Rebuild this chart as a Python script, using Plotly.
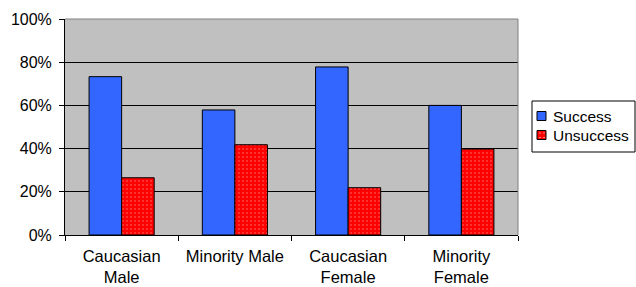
import plotly.graph_objects as go

categories = ["Caucasian<br>Male", "Minority Male", "Caucasian<br>Female", "Minority<br>Female"]
series_names = ["Success", "Unsuccess"]
success = [0.733, 0.579, 0.778, 0.600]
unsuccess = [0.265, 0.418, 0.219, 0.398]
y_ticks = [0, 0.2, 0.4, 0.6, 0.8, 1.0]

FONT = "Liberation Sans, Arial, sans-serif"
BLUE = "#3366FF"
RED = "#FF0000"

fig = go.Figure()
fig.add_trace(go.Bar(
    x=categories, y=success, name=series_names[0],
    marker=dict(color=BLUE, line=dict(color="black", width=1)),
    showlegend=False,
))
fig.add_trace(go.Bar(
    x=categories, y=unsuccess, name=series_names[1],
    marker=dict(color=RED, line=dict(color="black", width=1),
                pattern=dict(shape=".", fgcolor="white", bgcolor=RED, size=4, solidity=0.1)),
    showlegend=False,
))

W, H = 636, 287
L, R, T, B = 65, 118, 19, 52
fig.update_layout(
    width=W, height=H,
    margin=dict(l=L, r=R, t=T, b=B, pad=0, autoexpand=False),
    paper_bgcolor="white",
    plot_bgcolor="#C0C0C0",
    barmode="group",
    bargap=0.425,
    bargroupgap=0,
    font=dict(family=FONT, size=16, color="black"),
)
fig.update_yaxes(
    range=[0, 1], tickvals=y_ticks, tickformat=".0%",
    showgrid=True, gridcolor="black", gridwidth=1,
    showline=True, linecolor="black", linewidth=1,
    ticks="outside", ticklen=5, tickcolor="black",
    zeroline=False, fixedrange=True, automargin=False,
    tickfont=dict(size=16), ticklabelstandoff=4,
)
fig.update_xaxes(
    showline=True, linecolor="black", linewidth=1,
    ticks="outside", ticklen=5, tickcolor="black",
    tickson="boundaries", showgrid=False, automargin=False,
    tickfont=dict(size=16.5), fixedrange=True, ticklabelstandoff=6,
)

# plot area top/right border
fig.add_shape(type="line", xref="paper", yref="paper", x0=0, x1=1, y0=1, y1=1,
              line=dict(color="#808080", width=1))
fig.add_shape(type="line", xref="paper", yref="paper", x0=1, x1=1, y0=0, y1=1,
              line=dict(color="#808080", width=1))

# manual legend (pixel -> paper conversion)
pw = W - L - R
ph = H - T - B
def px(x):
    return (x - L) / pw
def py(y):
    return 1 - (y - T) / ph

fig.add_shape(type="rect", xref="paper", yref="paper",
              x0=px(532), x1=px(635), y0=py(152), y1=py(101),
              line=dict(color="black", width=1), fillcolor="white")
colors = [BLUE, RED]
ys = [116, 135]
for name, col, yc in zip(series_names, colors, ys):
    fig.add_shape(type="rect", xref="paper", yref="paper",
                  x0=px(537), x1=px(546), y0=py(yc + 4.5), y1=py(yc - 4.5),
                  line=dict(color="black", width=1), fillcolor=col)
    fig.add_annotation(xref="paper", yref="paper", x=px(551), y=py(yc),
                       text=name, showarrow=False, xanchor="left", yanchor="middle",
                       font=dict(family=FONT, size=15.5, color="black"))
# white dots on legend red square
for dx in (539.5, 543.5):
    for dy in (132.5, 137):
        fig.add_shape(type="rect", xref="paper", yref="paper",
                      x0=px(dx), x1=px(dx + 1), y0=py(dy + 1), y1=py(dy),
                      line=dict(width=0), fillcolor="white")

fig.write_html("out.html", config={"displayModeBar": False},
               post_script="document.body.style.margin='0';document.body.style.overflow='hidden';")
